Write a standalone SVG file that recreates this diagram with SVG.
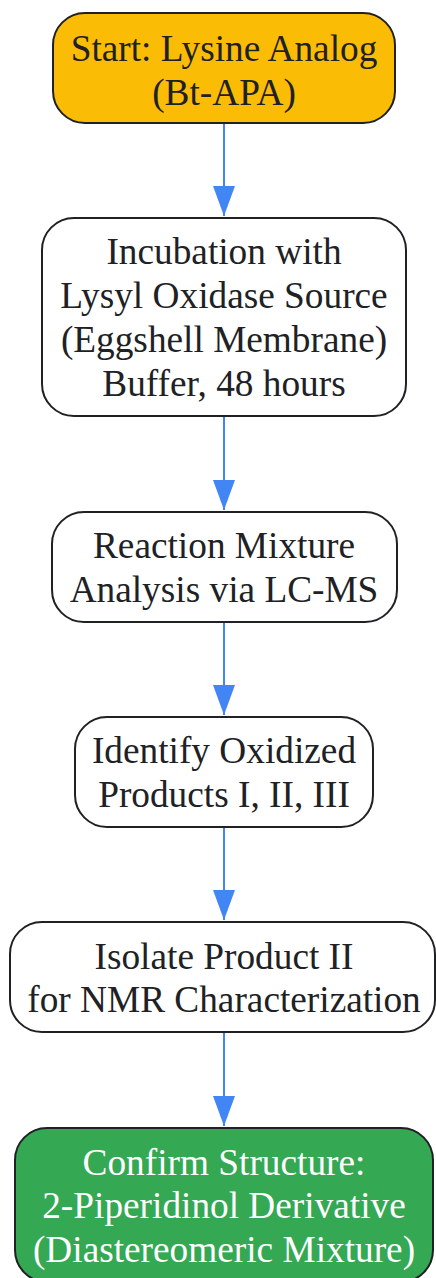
<svg xmlns="http://www.w3.org/2000/svg" width="436" height="1278" viewBox="0 0 436 1278">
<style>
.n{stroke:#202124;stroke-width:2}
.w{fill:#ffffff}
.t{font-family:"Liberation Serif","Times New Roman",serif;font-size:37.3px;fill:#202124;text-anchor:middle}
.tw{fill:#ffffff}
.e{stroke:#4285F4;stroke-width:2;fill:none}
</style>
<defs>
<marker id="ah" markerUnits="userSpaceOnUse" markerWidth="32" markerHeight="24" refX="30" refY="11" orient="auto">
<path d="M0,0 L30,11 L0,22 Z" fill="#4285F4"/>
</marker>
</defs>
<rect width="436" height="1278" fill="#ffffff"/>
<g id="connectors">
<line class="e" x1="224" y1="123" x2="224" y2="216" marker-end="url(#ah)"/>
<line class="e" x1="224" y1="416" x2="224" y2="510" marker-end="url(#ah)"/>
<line class="e" x1="224" y1="622" x2="224" y2="715" marker-end="url(#ah)"/>
<line class="e" x1="224" y1="827" x2="224" y2="920" marker-end="url(#ah)"/>
<line class="e" x1="224" y1="1032" x2="224" y2="1126" marker-end="url(#ah)"/>
</g>
<g id="start">
<rect class="n" x="53" y="13" width="342" height="110" rx="32" fill="#FBBC05"/>
<text class="t" x="224" y="61">Start: Lysine Analog</text>
<text class="t" x="224" y="105">(Bt-APA)</text>
</g>
<g id="incubation">
<rect class="n w" x="42" y="218" width="364" height="198" rx="32"/>
<text class="t" x="224" y="264">Incubation with</text>
<text class="t" x="224" y="308">Lysyl Oxidase Source</text>
<text class="t" x="224" y="352">(Eggshell Membrane)</text>
<text class="t" x="224" y="396">Buffer, 48 hours</text>
</g>
<g id="analysis">
<rect class="n w" x="52" y="512" width="345" height="110" rx="32"/>
<text class="t" x="224" y="558">Reaction Mixture</text>
<text class="t" x="224" y="602">Analysis via LC-MS</text>
</g>
<g id="identify">
<rect class="n w" x="75" y="717" width="298" height="110" rx="32"/>
<text class="t" x="224" y="763">Identify Oxidized</text>
<text class="t" x="224" y="807">Products I, II, III</text>
</g>
<g id="isolate">
<rect class="n w" x="10" y="922" width="425" height="110" rx="32"/>
<text class="t" x="224" y="969">Isolate Product II</text>
<text class="t" x="224" y="1012">for NMR Characterization</text>
</g>
<g id="confirm">
<rect class="n" x="15" y="1128" width="418" height="154" rx="32" fill="#34A853"/>
<text class="t tw" x="224" y="1175">Confirm Structure:</text>
<text class="t tw" x="224" y="1218">2-Piperidinol Derivative</text>
<text class="t tw" x="224" y="1262">(Diastereomeric Mixture)</text>
</g>
</svg>
